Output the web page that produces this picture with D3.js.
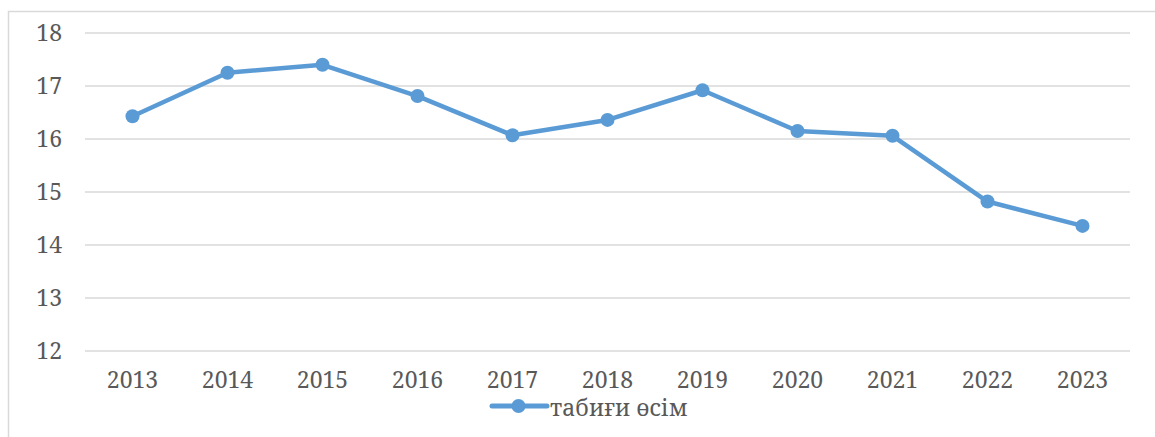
<!DOCTYPE html>
<html>
<head>
<meta charset="utf-8">
<script src="https://cdn.jsdelivr.net/npm/d3@7"></script>
<style>
  body { margin: 0; background: #fff; }
</style>
</head>
<body>
<div id="chart"></div>
<script>
const years = ["2013","2014","2015","2016","2017","2018","2019","2020","2021","2022","2023"];
const values = [16.43, 17.25, 17.40, 16.81, 16.07, 16.36, 16.92, 16.15, 16.06, 14.82, 14.36];
const yTicks = [12, 13, 14, 15, 16, 17, 18];
const seriesName = "табиғи өсім";

const W = 1155, H = 437;
const margin = {left: 85, right: 25, top: 33, bottom: 86};
const width = W - margin.left - margin.right;
const height = H - margin.top - margin.bottom;
const fontFam = "'Noto Serif', 'DejaVu Serif', serif";
const textColor = "#595959";

const svg = d3.select("#chart").append("svg")
    .attr("width", W)
    .attr("height", H);

// outer frame (runs off the right and bottom edges)
svg.append("rect")
    .attr("x", 8.5).attr("y", 11.5)
    .attr("width", W).attr("height", H)
    .attr("fill", "none")
    .attr("stroke", "#d9d9d9")
    .attr("stroke-width", 1.5);

const g = svg.append("g")
    .attr("transform", `translate(${margin.left},${margin.top})`);

const x = d3.scaleBand().domain(years).range([0, width]);
const y = d3.scaleLinear().domain([12, 18]).range([height, 0]);

// gridlines
g.selectAll("line.grid")
  .data(yTicks)
  .join("line")
    .attr("class", "grid")
    .attr("x1", 0).attr("x2", width)
    .attr("y1", d => y(d)).attr("y2", d => y(d))
    .attr("stroke", "#d9d9d9")
    .attr("stroke-width", 1.5);

// Y axis labels
const yAxis = g.append("g")
    .call(d3.axisLeft(y).tickValues(yTicks).tickFormat(d3.format("d")).tickSize(0).tickPadding(23));
yAxis.select(".domain").remove();
yAxis.selectAll("text")
    .attr("fill", textColor)
    .style("font-family", fontFam)
    .style("font-size", "23px");

// X axis labels
const xAxis = g.append("g")
    .attr("transform", `translate(0,${height})`)
    .call(d3.axisBottom(x).tickSize(0).tickPadding(21));
xAxis.select(".domain").remove();
xAxis.selectAll("text")
    .attr("fill", textColor)
    .style("font-family", fontFam)
    .style("font-size", "23px");

const color = "#5b9bd5";
const cx = d => x(d) + x.bandwidth() / 2;

// line + markers
g.append("path")
    .datum(values)
    .attr("fill", "none")
    .attr("stroke", color)
    .attr("stroke-width", 4.5)
    .attr("stroke-linejoin", "round")
    .attr("d", d3.line().x((d, i) => cx(years[i])).y(d => y(d)));

g.selectAll("circle.pt")
  .data(values)
  .join("circle")
    .attr("class", "pt")
    .attr("cx", (d, i) => cx(years[i]))
    .attr("cy", d => y(d))
    .attr("r", 7)
    .attr("fill", color);

// legend
const lg = svg.append("g").attr("transform", "translate(492,406)");
lg.append("line")
    .attr("x1", 0).attr("x2", 55)
    .attr("y1", 0).attr("y2", 0)
    .attr("stroke", color).attr("stroke-width", 5)
    .attr("stroke-linecap", "round");
lg.append("circle").attr("cx", 26.5).attr("cy", 0).attr("r", 7).attr("fill", color);
lg.append("text")
    .attr("x", 58).attr("y", 10)
    .attr("fill", textColor)
    .style("font-family", fontFam)
    .style("font-size", "23px")
    .text(seriesName);
</script>
</body>
</html>
